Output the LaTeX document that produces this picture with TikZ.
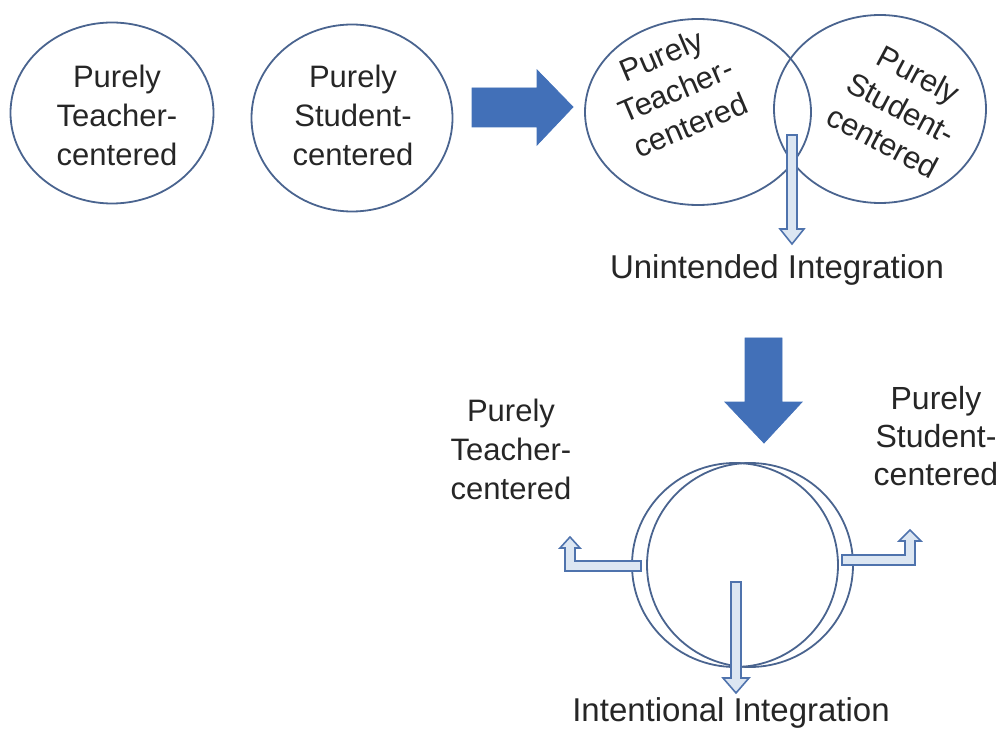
\documentclass[tikz,border=0pt]{standalone}
\usepackage{fontspec}
\setmainfont{Liberation Sans}
\usetikzlibrary{shapes.geometric}
\definecolor{lineblue}{HTML}{4A648F}
\definecolor{bigblue}{HTML}{4270B8}
\definecolor{paleblue}{HTML}{DCE6F2}
\definecolor{smallline}{HTML}{4F73AD}
\tikzset{
  circ/.style={ellipse, draw=lineblue, line width=1.8pt, inner sep=0pt},
  lbl/.style={align=center, font=\fontsize{31}{39}\selectfont, text=black!85},
  vlbl/.style={align=center, font=\fontsize{31}{38}\selectfont, text=black!85},
  captext/.style={font=\fontsize{33}{40}\selectfont, text=black!85},
  bigarrow/.style={fill=bigblue, draw=bigblue, line width=0.8pt, line join=miter},
  hollow/.style={fill=paleblue, draw=smallline, line width=1.6pt, line join=miter}
}
\begin{document}
\begin{tikzpicture}[x=1pt,y=-1pt]
\useasboundingbox (0,0) rectangle (1005,738);
% first two circles
\node[circ, minimum width=203pt, minimum height=181pt] (tc) at (112,113) {};
\node[lbl] (tct) at (117,115) {Purely\\Teacher-\\centered};
\node[circ, minimum width=201pt, minimum height=187pt] (sc) at (352,118) {};
\node[lbl] (sct) at (353,115) {Purely\\Student-\\centered};
% big right arrow
\draw[bigarrow] (472,88) -- (537,88) -- (537,70) -- (573,107) -- (537,145) -- (537,127) -- (472,127) -- cycle;
% venn
\node[circ, minimum width=226pt, minimum height=186pt] (vl) at (698,112) {};
\node[circ, minimum width=212pt, minimum height=188pt] (vr) at (880,109) {};
\node[vlbl, rotate=23] (vlt) at (676,90) {Purely\\Teacher-\\centered};
\node[vlbl, rotate=-28] (vrt) at (901,108) {Purely\\Student-\\centered};
\draw[hollow] (787,135) -- (797,135) -- (797,229) -- (804,229) -- (792,244) -- (780,229) -- (787,229) -- cycle;
\node[captext] (ui) at (777,270) {Unintended Integration};
% big down arrow
\draw[bigarrow] (745,338) -- (782,338) -- (782,402) -- (802,402) -- (764,443) -- (725,402) -- (745,402) -- cycle;
% bottom circles
\node[circ, minimum width=206pt, minimum height=204pt] (ca) at (735,565) {};
\node[circ, minimum width=206pt, minimum height=204pt] (cb) at (750,565) {};
\node[lbl] (lt) at (511,449) {Purely\\Teacher-\\centered};
\node[lbl, font=\fontsize{32}{38}\selectfont] (rt) at (936,436) {Purely\\Student-\\centered};
\draw[hollow] (641,561) -- (575,561) -- (575,548) -- (580,548) -- (570,537) -- (560,548) -- (565,548) -- (565,571) -- (641,571) -- cycle;
\draw[hollow] (842,555) -- (905,555) -- (905,541) -- (899,541) -- (910,530) -- (921,541) -- (915,541) -- (915,565) -- (842,565) -- cycle;
\draw[hollow] (731,582) -- (741,582) -- (741,678) -- (749,678) -- (736,693) -- (723,678) -- (731,678) -- cycle;
\node[captext] (ii) at (731,713) {Intentional Integration};
\end{tikzpicture}
\end{document}
